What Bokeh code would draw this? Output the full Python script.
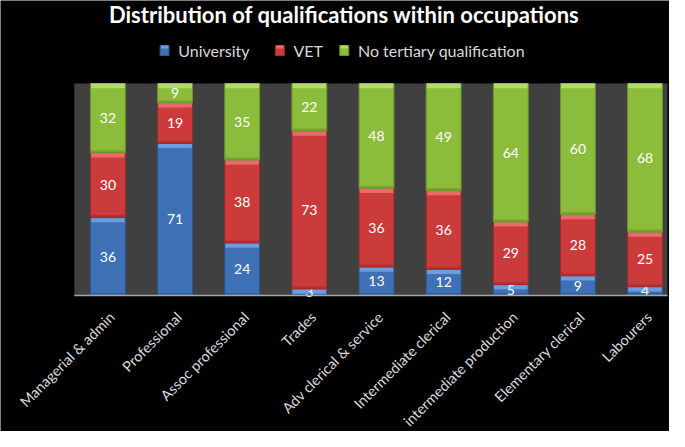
import math
from bokeh.plotting import figure
from bokeh.models import ColumnDataSource, Range1d, BoxAnnotation
from bokeh.core.properties import value
from bokeh.embed import file_html
from bokeh.resources import INLINE

categories = ["Managerial & admin", "Professional", "Assoc professional", "Trades",
              "Adv clerical & service", "Intermediate clerical", "intermediate production",
              "Elementary clerical", "Labourers"]
university = [36, 71, 24, 3, 13, 12, 5, 9, 4]
vet = [30, 19, 38, 73, 36, 36, 29, 28, 25]
no_tertiary = [32, 9, 35, 22, 48, 49, 64, 60, 68]

series_names = ["University", "VET", "No tertiary qualification"]
series_values = [university, vet, no_tertiary]
main_colors = ["#3e70b6", "#cc3b3b", "#8cbc3c"]
light_colors = ["#6d9ddc", "#e86b6b", "#b4da6a"]
dark_colors = ["#2d568e", "#9e2a2a", "#6c9328"]

FONT = "Lato"
W, H = 669, 431
SX = W / 685.0                      # horizontal squeeze to fit the 8px page margin
PLOT_LEFT_PX = 75.6 * SX
CAT_PX = 68.75 * SX
PLOT_RIGHT_PX = 683 * SX
PLOT_TOP_PX, PLOT_BOTTOM_PX = 83, 295
PLOT_H = PLOT_BOTTOM_PX - PLOT_TOP_PX
N = len(categories)


def px_y(py):
    return (PLOT_BOTTOM_PX - py) / PLOT_H


def px_x(px):
    return (px - PLOT_LEFT_PX) / CAT_PX


def ref_x(px):
    return px_x(px * SX)


totals = [sum(v) for v in zip(*series_values)]
xs = [i + 0.5 for i in range(N)]

p = figure(x_range=Range1d(px_x(0), px_x(W)), y_range=Range1d(px_y(H), px_y(0)),
           width=W, height=H, output_backend="svg", toolbar_location=None,
           background_fill_color="black", border_fill_color="black",
           outline_line_color=None,
           min_border_left=0, min_border_right=0, min_border_bottom=0, min_border_top=0)
p.xaxis.visible = False
p.yaxis.visible = False
p.xgrid.grid_line_color = None
p.ygrid.grid_line_color = None

p.add_layout(BoxAnnotation(bottom=0, top=1, left=0, right=px_x(PLOT_RIGHT_PX),
                           fill_color="#404040", fill_alpha=1,
                           line_color=None, level="underlay"))

bar_w = 0.52
hi = 0.022
lo = 0.012
bottoms = [0.0] * N
for name, vals, mc, lc, dc in zip(series_names, series_values, main_colors, light_colors, dark_colors):
    fr = [v / t for v, t in zip(vals, totals)]
    tops = [b + f for b, f in zip(bottoms, fr)]
    src = ColumnDataSource(dict(
        x=xs, bottom=bottoms, top=tops,
        hi_bottom=[max(b, t - hi) for b, t in zip(bottoms, tops)],
        lo_top=[min(t, b + lo) for b, t in zip(bottoms, tops)],
        mid=[(b + t) / 2 for b, t in zip(bottoms, tops)],
        label=[str(v) for v in vals],
    ))
    p.vbar(x="x", bottom="bottom", top="top", width=bar_w, source=src,
           fill_color=mc, line_color=dc, line_width=1)
    p.vbar(x="x", bottom="bottom", top="lo_top", width=bar_w - 0.02, source=src,
           fill_color=dc, fill_alpha=0.6, line_color=None)
    p.vbar(x="x", bottom="hi_bottom", top="top", width=bar_w - 0.02, source=src,
           fill_color=lc, line_color=None)
    p.text(x="x", y="mid", text="label", source=src, text_align="center",
           text_baseline="middle", text_color="white", text_font_size="14px",
           text_font=value(FONT))
    bottoms = tops

# category axis line and labels
p.segment(x0=[0], x1=[px_x(PLOT_RIGHT_PX)], y0=[0], y1=[0], line_color="#a6a6a6", line_width=1.5)
p.text(x=[x + 4 / CAT_PX for x in xs], y=[px_y(PLOT_BOTTOM_PX + 19)] * N, text=categories,
       angle=math.pi / 4, text_align="right", text_baseline="middle",
       text_color="#d9d9d9", text_font_size="14.5px", text_font=value(FONT))

# Title
p.text(x=[ref_x(352)], y=[px_y(14)],
       text=["Distribution of qualifications within occupations"],
       text_align="center", text_baseline="middle", text_color="white",
       text_font_size="22px", text_font_style="bold", text_font=value(FONT))

# Legend
leg_sq_px = [168, 286, 352]
leg_y = px_y(50)
p.rect(x=[ref_x(v) for v in leg_sq_px], y=[leg_y] * 3, width=9, height=10,
       width_units="screen", height_units="screen",
       fill_color=main_colors, line_color=dark_colors)
p.rect(x=[ref_x(v) for v in leg_sq_px], y=[px_y(46.5)] * 3, width=7, height=3,
       width_units="screen", height_units="screen",
       fill_color=light_colors, line_color=None)
p.text(x=[ref_x(v + 14) for v in leg_sq_px], y=[leg_y] * 3, text=series_names,
       text_align="left", text_baseline="middle", text_color="#d9d9d9",
       text_font_size="16px", text_font=value(FONT))

with open("out.html", "w") as f:
    f.write(file_html(p, INLINE))
